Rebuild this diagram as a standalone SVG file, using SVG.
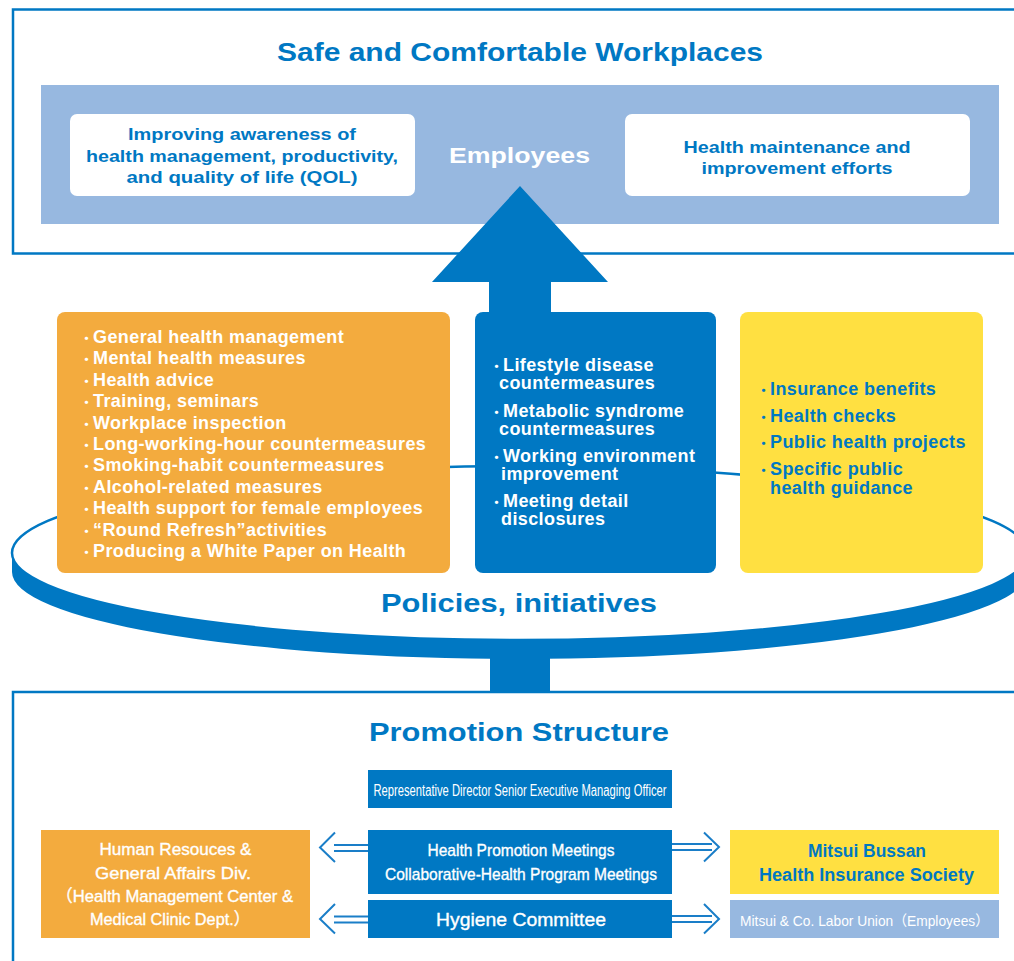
<svg xmlns="http://www.w3.org/2000/svg" width="1014" height="961" viewBox="0 0 1014 961">
<style>
text{font-family:"Liberation Sans","Noto Sans CJK JP",sans-serif}
.b{font-weight:bold}
.title{font-size:26px;font-weight:bold;fill:#0078c3;text-anchor:middle}
.bt{font-size:17px;font-weight:bold;fill:#0078c3;text-anchor:middle}
.li{font-size:18px;font-weight:bold;letter-spacing:0.4px}
.d{font-size:13px;letter-spacing:0}
.w{fill:#ffffff}
.bl{fill:#0078c3}
.m{text-anchor:middle}
.med{stroke:#ffffff;stroke-width:0.35}
.frame{fill:none;stroke:#0078c3;stroke-width:2.5}
.dbl{fill:none;stroke:#1a7ec8;stroke-width:2}
</style>
<rect width="1014" height="961" fill="#ffffff"/>

<g id="top-section">
<path class="frame" d="M1016,9.5 H13 V253.5 H1016"/>
<text class="title" x="520" y="61" textLength="486" lengthAdjust="spacingAndGlyphs">Safe and Comfortable Workplaces</text>
<rect x="41" y="85" width="958" height="139" fill="#97b8e0"/>
</g>

<g id="node-awareness">
<rect x="70" y="114" width="345" height="82" rx="7" fill="#ffffff"/>
<text class="bt" x="242" y="140" textLength="228" lengthAdjust="spacingAndGlyphs">Improving awareness of</text>
<text class="bt" x="242" y="161.5" textLength="312" lengthAdjust="spacingAndGlyphs">health management, productivity,</text>
<text class="bt" x="242" y="183" textLength="231" lengthAdjust="spacingAndGlyphs">and quality of life (QOL)</text>
</g>

<g id="node-employees">
<text class="b w m" x="519.5" y="163" font-size="22" textLength="141" lengthAdjust="spacingAndGlyphs">Employees</text>
</g>

<g id="node-maintenance">
<rect x="625" y="114" width="345" height="82" rx="7" fill="#ffffff"/>
<text class="bt" x="797" y="152.5" textLength="227" lengthAdjust="spacingAndGlyphs">Health maintenance and</text>
<text class="bt" x="797" y="173.5" textLength="191" lengthAdjust="spacingAndGlyphs">improvement efforts</text>
</g>

<g id="ring">
<ellipse cx="520" cy="553" rx="508" ry="87" fill="none" stroke="#0078c3" stroke-width="2.5"/>
<path d="M12,553 A508,87 0 0,0 1028,553 V572 A508,87 0 0,1 12,572 Z" fill="#0078c3"/>
<rect x="490" y="655" width="60" height="38" fill="#0078c3"/>
<text class="title" x="519" y="612" textLength="276" lengthAdjust="spacingAndGlyphs">Policies, initiatives</text>
</g>

<g id="connectors">
<polygon points="520,186 608,282 551,282 551,320 489,320 489,282 432,282" fill="#0078c3"/>
<path class="dbl" d="M334,845 H368 M334,851 H368 M335,832.5 L320,847.5 L335,862"/>
<path class="dbl" d="M334,916.5 H368 M334,922.5 H368 M335,904 L320,919 L335,933.5"/>
<path class="dbl" d="M672,844 H712 M672,850 H712 M704,832.5 L719,847 L704,861.5"/>
<path class="dbl" d="M672,916 H712 M672,922 H712 M704,904 L719,919 L704,933.5"/>
</g>

<g id="node-company">
<rect x="57" y="312" width="393" height="261" rx="8" fill="#f3ab3e"/>
<text class="li w" x="80" y="343"><tspan class="d">・</tspan><tspan>General health management</tspan></text>
<text class="li w" x="80" y="364.4"><tspan class="d">・</tspan><tspan>Mental health measures</tspan></text>
<text class="li w" x="80" y="385.8"><tspan class="d">・</tspan><tspan>Health advice</tspan></text>
<text class="li w" x="80" y="407.2"><tspan class="d">・</tspan><tspan>Training, seminars</tspan></text>
<text class="li w" x="80" y="428.6"><tspan class="d">・</tspan><tspan>Workplace inspection</tspan></text>
<text class="li w" x="80" y="450"><tspan class="d">・</tspan><tspan>Long-working-hour countermeasures</tspan></text>
<text class="li w" x="80" y="471.4"><tspan class="d">・</tspan><tspan>Smoking-habit countermeasures</tspan></text>
<text class="li w" x="80" y="492.8"><tspan class="d">・</tspan><tspan>Alcohol-related measures</tspan></text>
<text class="li w" x="80" y="514.2"><tspan class="d">・</tspan><tspan>Health support for female employees</tspan></text>
<text class="li w" x="80" y="535.6"><tspan class="d">・</tspan><tspan>“Round Refresh”activities</tspan></text>
<text class="li w" x="80" y="557"><tspan class="d">・</tspan><tspan>Producing a White Paper on Health</tspan></text>
</g>

<g id="node-joint">
<rect x="475" y="312" width="241" height="261" rx="8" fill="#0078c3"/>
<text class="li w" x="490" y="371"><tspan class="d">・</tspan><tspan>Lifestyle disease</tspan></text>
<text class="li w" x="499" y="389">countermeasures</text>
<text class="li w" x="490" y="417"><tspan class="d">・</tspan><tspan>Metabolic syndrome</tspan></text>
<text class="li w" x="499" y="435">countermeasures</text>
<text class="li w" x="490" y="462"><tspan class="d">・</tspan><tspan>Working environment</tspan></text>
<text class="li w" x="501" y="480">improvement</text>
<text class="li w" x="490" y="507"><tspan class="d">・</tspan><tspan>Meeting detail</tspan></text>
<text class="li w" x="501" y="525">disclosures</text>
</g>

<g id="node-insurance">
<rect x="740" y="312" width="243" height="261" rx="8" fill="#ffe041"/>
<text class="li bl" x="757" y="395"><tspan class="d">・</tspan><tspan>Insurance benefits</tspan></text>
<text class="li bl" x="757" y="422"><tspan class="d">・</tspan><tspan>Health checks</tspan></text>
<text class="li bl" x="757" y="448"><tspan class="d">・</tspan><tspan>Public health projects</tspan></text>
<text class="li bl" x="757" y="475"><tspan class="d">・</tspan><tspan>Specific public</tspan></text>
<text class="li bl" x="770" y="494">health guidance</text>
</g>

<g id="bottom-section">
<path class="frame" d="M1016,692 H13 V963"/>
<text class="title" x="519" y="741" textLength="300" lengthAdjust="spacingAndGlyphs">Promotion Structure</text>
</g>

<g id="node-director">
<rect x="368" y="770" width="304" height="38" fill="#0078c3"/>
<text class="w m" x="520" y="795.5" font-size="16" textLength="293" lengthAdjust="spacingAndGlyphs">Representative Director Senior Executive Managing Officer</text>
</g>

<g id="node-meetings">
<rect x="368" y="830" width="304" height="64" fill="#0078c3"/>
<text class="w m med" x="521" y="856" font-size="17" textLength="187" lengthAdjust="spacingAndGlyphs">Health Promotion Meetings</text>
<text class="w m med" x="521" y="879.5" font-size="17" textLength="272" lengthAdjust="spacingAndGlyphs">Collaborative-Health Program Meetings</text>
</g>

<g id="node-hygiene">
<rect x="368" y="900" width="304" height="38" fill="#0078c3"/>
<text class="w m med" x="521" y="926" font-size="18" textLength="170" lengthAdjust="spacingAndGlyphs">Hygiene Committee</text>
</g>

<g id="node-hr">
<rect x="41" y="830" width="269" height="108" fill="#f3ab3e"/>
<text class="w m med" x="175.5" y="855" font-size="17" textLength="152" lengthAdjust="spacingAndGlyphs">Human Resouces &amp;</text>
<text class="w m med" x="173" y="878.5" font-size="17" textLength="156" lengthAdjust="spacingAndGlyphs">General Affairs Div.</text>
<text class="w m med" x="174.5" y="902" font-size="17" textLength="237" lengthAdjust="spacingAndGlyphs">（Health Management Center &amp;</text>
<text class="w m med" x="170" y="925" font-size="17" textLength="160" lengthAdjust="spacingAndGlyphs">Medical Clinic Dept.）</text>
</g>

<g id="node-society">
<rect x="730" y="830" width="269" height="64" fill="#ffe041"/>
<text class="b bl m" x="867" y="857" font-size="18" textLength="118" lengthAdjust="spacingAndGlyphs">Mitsui Bussan</text>
<text class="b bl m" x="866.5" y="880.5" font-size="18" textLength="215" lengthAdjust="spacingAndGlyphs">Health Insurance Society</text>
</g>

<g id="node-union">
<rect x="730" y="900" width="269" height="38" fill="#97b8e0"/>
<text class="w m" x="864.5" y="925.5" font-size="14.5" textLength="249" lengthAdjust="spacingAndGlyphs">Mitsui &amp; Co. Labor Union（Employees）</text>
</g>
</svg>
